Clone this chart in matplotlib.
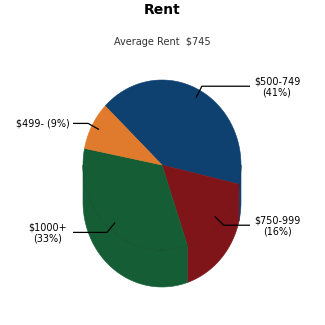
import numpy as np
import matplotlib
matplotlib.use("Agg")
import matplotlib.pyplot as plt
from matplotlib.patches import Polygon

# Data
categories = ["$500-749", "$750-999", "$1000+", "$499-"]
percents = [41, 16, 33, 9]
label_breaks = ["\n", "\n", "\n", " "]
colors = ["#0e4170", "#7f1519", "#155e35", "#e07a2c"]
title = "Rent"
subtitle = "Average Rent  $745"

# Geometry of the 3D pie (pixel space of a 325x325 canvas)
cx, cy, rx, ry, depth = 162.0, 165.0, 79.0, 85.0, 37.0
start_angle = 136.0  # first wedge starts here and slices run clockwise

fig = plt.figure(figsize=(3.25, 3.25), dpi=100)
ax = fig.add_axes([0, 0, 1, 1])
ax.set_xlim(0, 325)
ax.set_ylim(325, 0)
ax.axis("off")


def point(t, r=1.0, dy=0.0):
    rad = np.radians(t)
    return cx + r * rx * np.cos(rad), cy - r * ry * np.sin(rad) + dy


def arc(t0, t1, dy=0.0, n=None):
    n = n or max(int(abs(t1 - t0)) * 2, 4)
    ts = np.linspace(t0, t1, n)
    return [point(t, 1.0, dy) for t in ts]


total = float(sum(percents))
wedges = []
a = start_angle
for p in percents:
    span = p / total * 360.0
    wedges.append((a - span, a))
    a -= span

# Side walls (front half only), drawn beneath the top faces
for (lo, hi), col in zip(wedges, colors):
    for k in range(-2, 2):
        f0, f1 = -180.0 + 360.0 * k, 0.0 + 360.0 * k
        s0, s1 = max(lo, f0), min(hi, f1)
        if s1 - s0 <= 0:
            continue
        top = arc(s0, s1)
        bottom = arc(s1, s0, dy=depth)
        ax.add_patch(Polygon(top + bottom, closed=True, facecolor=col,
                             edgecolor=col, lw=0.4, zorder=1))

# Top faces
for (lo, hi), col in zip(wedges, colors):
    pts = [(cx, cy)] + arc(lo, hi)
    ax.add_patch(Polygon(pts, closed=True, facecolor=col, edgecolor=col,
                         lw=0.4, zorder=2))

# Faint rim where the top face meets the side wall
rim = np.array(arc(-180, 0, n=200))
ax.plot(rim[:, 0], rim[:, 1], color="black", alpha=0.12, lw=0.8, zorder=3)

# Leader lines and labels
for (lo, hi), cat, p, brk in zip(wedges, categories, percents, label_breaks):
    mid = (lo + hi) / 2.0
    x0, y0 = point(mid, 0.9)
    x1, y1 = point(mid, 1.055)
    right = np.cos(np.radians(mid)) > 0
    x2 = 250.0 if right else 73.0
    ax.plot([x0, x1, x2], [y0, y1, y1], color="black", lw=0.9, zorder=4,
            solid_capstyle="butt")
    text = f"{cat}{brk}({p}%)"
    if right:
        ax.text(277, y1 + 0.5, text, ha="center", va="center", fontsize=6.9,
                linespacing=1.1, color="black")
    elif "\n" in text:
        ax.text(48, y1 + 0.5, text, ha="center", va="center", fontsize=6.9,
                linespacing=1.1, color="black")
    else:
        ax.text(70, y1, text, ha="right", va="center", fontsize=6.9,
                color="black")

ax.text(162.5, 9.5, title, ha="center", va="center", fontsize=10,
        fontweight="bold", color="black")
ax.text(162.5, 42, subtitle, ha="center", va="center", fontsize=7,
        color="#333333")

fig.savefig("out.png", dpi=100)
